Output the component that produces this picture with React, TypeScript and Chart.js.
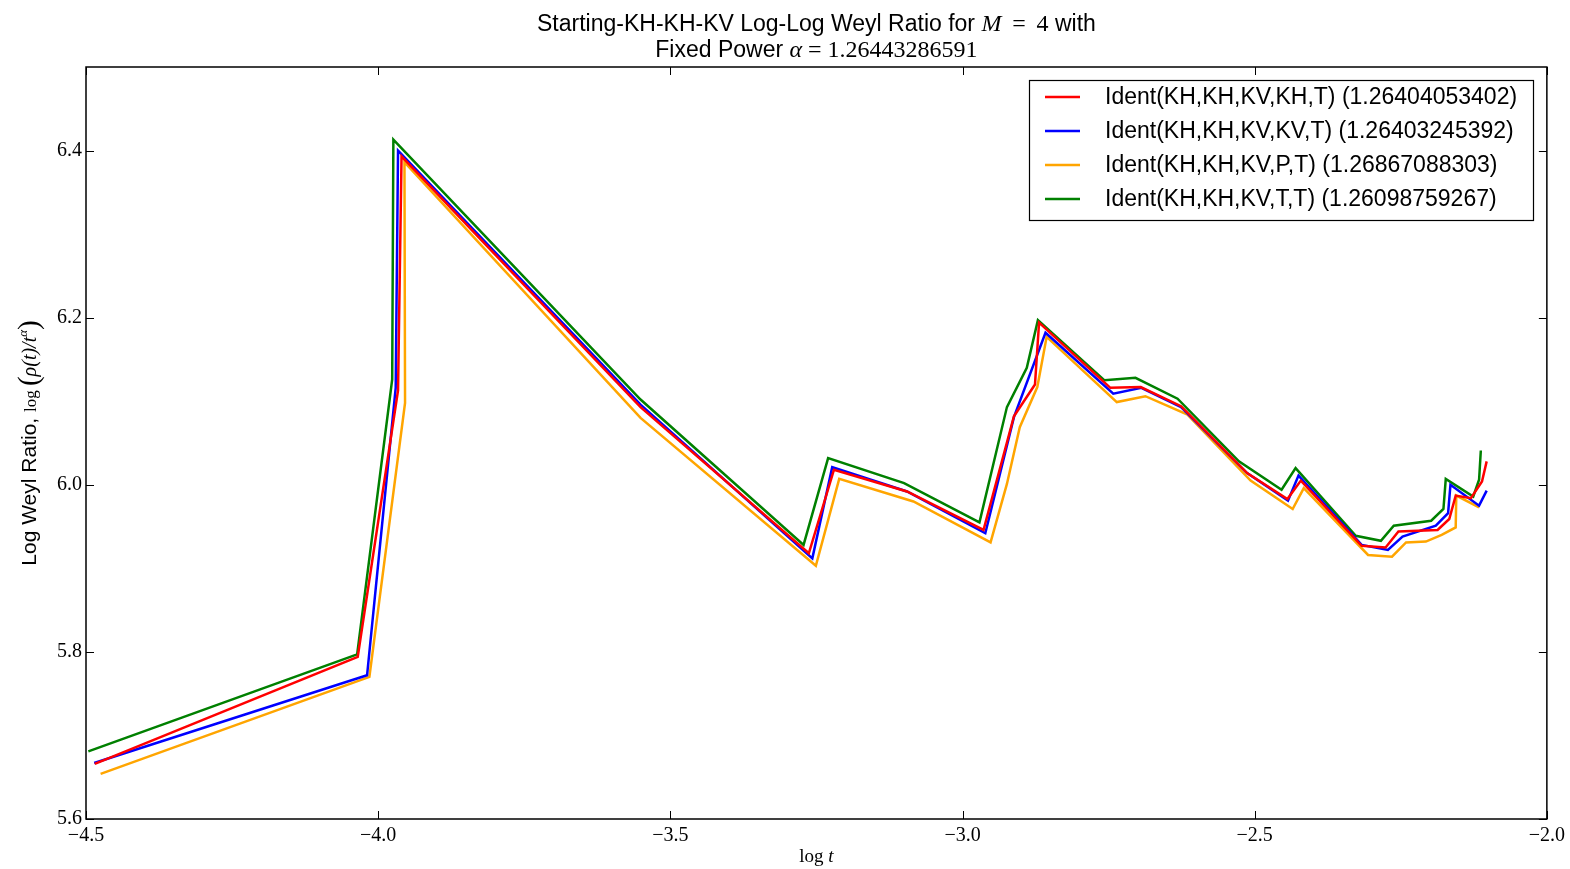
import React, { useEffect, useRef } from "react";
import { Chart, registerables } from "chart.js";
Chart.register(...registerables);

const seriesLabels = [
  "Ident(KH,KH,KV,KH,T) (1.26404053402)",
  "Ident(KH,KH,KV,KV,T) (1.26403245392)",
  "Ident(KH,KH,KV,P,T) (1.26867088303)",
  "Ident(KH,KH,KV,T,T) (1.26098759267)",
];
const seriesColors = ["#ff0000", "#0000ff", "#ffa500", "#008000"];

const redX = [-4.485, -4.035, -3.966, -3.960, -3.551, -3.263, -3.220, -3.095, -2.964, -2.912, -2.876, -2.869, -2.747, -2.695, -2.626, -2.513, -2.444, -2.421, -2.317, -2.276, -2.254, -2.187, -2.167, -2.156, -2.130, -2.111, -2.103];
const redY = [5.666, 5.794, 6.113, 6.393, 6.093, 5.918, 6.018, 5.992, 5.946, 6.082, 6.120, 6.194, 6.116, 6.117, 6.094, 6.014, 5.983, 6.005, 5.927, 5.925, 5.944, 5.946, 5.959, 5.987, 5.984, 6.004, 6.028];

const blueX = [-4.486, -4.019, -3.970, -3.966, -3.551, -3.257, -3.223, -3.095, -2.961, -2.912, -2.858, -2.742, -2.694, -2.626, -2.513, -2.443, -2.425, -2.317, -2.272, -2.247, -2.190, -2.169, -2.165, -2.116, -2.103];
const blueY = [5.667, 5.772, 6.116, 6.400, 6.096, 5.912, 6.021, 5.992, 5.942, 6.081, 6.182, 6.109, 6.116, 6.093, 6.014, 5.981, 6.011, 5.928, 5.922, 5.938, 5.951, 5.966, 6.000, 5.975, 5.993];

const orangeX = [-4.475, -4.015, -3.954, -3.955, -3.551, -3.251, -3.211, -3.084, -2.952, -2.924, -2.902, -2.872, -2.856, -2.736, -2.687, -2.615, -2.507, -2.435, -2.416, -2.306, -2.265, -2.241, -2.207, -2.180, -2.156, -2.155, -2.116];
const orangeY = [5.654, 5.770, 6.098, 6.386, 6.080, 5.903, 6.007, 5.980, 5.931, 6.001, 6.069, 6.117, 6.177, 6.099, 6.106, 6.084, 6.005, 5.971, 5.996, 5.916, 5.914, 5.931, 5.932, 5.940, 5.949, 5.987, 5.973];

const greenX = [-4.496, -4.036, -3.976, -3.974, -3.551, -3.272, -3.230, -3.100, -2.971, -2.924, -2.890, -2.871, -2.757, -2.704, -2.632, -2.527, -2.454, -2.430, -2.327, -2.284, -2.262, -2.198, -2.177, -2.173, -2.126, -2.116, -2.113];
const greenY = [5.681, 5.797, 6.126, 6.413, 6.102, 5.928, 6.032, 6.002, 5.955, 6.093, 6.140, 6.197, 6.125, 6.128, 6.103, 6.028, 5.994, 6.020, 5.939, 5.933, 5.951, 5.957, 5.971, 6.007, 5.986, 6.006, 6.041];

const xTicks = [-4.5, -4.0, -3.5, -3.0, -2.5, -2.0];
const yTicks = [5.6, 5.8, 6.0, 6.2, 6.4];
const xMin = -4.5, xMax = -2.0, yMin = 5.6, yMax = 6.5;

const SANS = "'Liberation Sans', Arial, sans-serif";
const SERIF = "'Liberation Serif', 'DejaVu Serif', serif";

type Seg = { t: string; f: string; dy?: number };

function drawSegs(ctx: CanvasRenderingContext2D, segs: Seg[], cx: number, y: number) {
  let total = 0;
  for (const s of segs) { ctx.font = s.f; total += ctx.measureText(s.t).width; }
  let x = cx - total / 2;
  ctx.textAlign = "left";
  for (const s of segs) {
    ctx.font = s.f;
    ctx.fillText(s.t, x, y + (s.dy || 0));
    x += ctx.measureText(s.t).width;
  }
}

const zip = (xs: number[], ys: number[]) => xs.map((x, i) => ({ x, y: ys[i] }));

const decorPlugin = {
  id: "decor",
  afterDraw(chart: any) {
    const ctx: CanvasRenderingContext2D = chart.ctx;
    const a = chart.chartArea;
    const xs = chart.scales.x, ys = chart.scales.y;
    ctx.save();
    ctx.strokeStyle = "#000";
    ctx.lineWidth = 1.5;
    ctx.strokeRect(a.left, a.top, a.right - a.left, a.bottom - a.top);
    ctx.lineWidth = 1;
    const tl = 8;
    for (const v of xTicks) {
      const px = Math.round(xs.getPixelForValue(v)) + 0.5;
      ctx.beginPath();
      ctx.moveTo(px, a.bottom); ctx.lineTo(px, a.bottom - tl);
      ctx.moveTo(px, a.top); ctx.lineTo(px, a.top + tl);
      ctx.stroke();
    }
    for (const v of yTicks) {
      const py = Math.round(ys.getPixelForValue(v)) + 0.5;
      ctx.beginPath();
      ctx.moveTo(a.left, py); ctx.lineTo(a.left + tl, py);
      ctx.moveTo(a.right, py); ctx.lineTo(a.right - tl, py);
      ctx.stroke();
    }
    ctx.fillStyle = "#000";
    ctx.textBaseline = "alphabetic";
    // title
    const ts = 23;
    drawSegs(ctx, [
      { t: "Starting-KH-KH-KV Log-Log Weyl Ratio for ", f: `${ts}px ${SANS}` },
      { t: "M", f: `italic ${ts + 1}px ${SERIF}` },
      { t: " \u2009=\u2009 4", f: `${ts + 1}px ${SERIF}` },
      { t: " with", f: `${ts}px ${SANS}` },
    ], (a.left + a.right) / 2, 31);
    drawSegs(ctx, [
      { t: "Fixed Power ", f: `${ts}px ${SANS}` },
      { t: "α", f: `italic ${ts + 1}px ${SERIF}` },
      { t: " = 1.26443286591", f: `${ts + 1}px ${SERIF}` },
    ], (a.left + a.right) / 2, 57);
    // x label
    drawSegs(ctx, [
      { t: "log ", f: `19px ${SERIF}` },
      { t: "t", f: `italic 19px ${SERIF}` },
    ], (a.left + a.right) / 2, 862);
    // y label
    ctx.save();
    ctx.translate(36, (a.top + a.bottom) / 2);
    ctx.rotate(-Math.PI / 2);
    drawSegs(ctx, [
      { t: "Log Weyl Ratio, ", f: `21px ${SANS}` },
      { t: "log ", f: `17px ${SERIF}` },
      { t: "(", f: `29px ${SERIF}`, dy: 2 },
      { t: "ρ(t)/t", f: `italic 20px ${SERIF}` },
      { t: "α", f: `italic 13px ${SERIF}`, dy: -9 },
      { t: ")", f: `29px ${SERIF}`, dy: 2 },
    ], 0, 0);
    ctx.restore();
    // legend
    const lx = 1029, ly = 80, lw = 504, lh = 140;
    ctx.fillStyle = "#fff";
    ctx.fillRect(lx, ly, lw, lh);
    ctx.strokeStyle = "#000";
    ctx.lineWidth = 1.2;
    ctx.strokeRect(lx + 0.5, ly + 0.5, lw, lh);
    ctx.font = `23px ${SANS}`;
    ctx.textBaseline = "middle";
    ctx.textAlign = "left";
    seriesLabels.forEach((lab, i) => {
      const yy = 97 + i * 34;
      ctx.strokeStyle = seriesColors[i];
      ctx.lineWidth = 2.5;
      ctx.beginPath();
      ctx.moveTo(1045, yy); ctx.lineTo(1080, yy);
      ctx.stroke();
      ctx.fillStyle = "#000";
      ctx.fillText(lab, 1105, yy + 1);
    });
    ctx.restore();
  },
};

export default function App() {
  const ref = useRef<HTMLCanvasElement | null>(null);
  useEffect(() => {
    document.body.style.margin = "0";
    const canvas = ref.current!;
    const xsArr = [redX, blueX, orangeX, greenX];
    const ysArr = [redY, blueY, orangeY, greenY];
    const chart = new Chart(canvas, {
      type: "line",
      data: {
        datasets: seriesLabels.map((lab, i) => ({
          label: lab,
          data: zip(xsArr[i], ysArr[i]),
          borderColor: seriesColors[i],
          backgroundColor: seriesColors[i],
          borderWidth: 2.5,
          pointRadius: 0,
          tension: 0,
          fill: false,
        })),
      },
      options: {
        animation: false,
        responsive: false,
        maintainAspectRatio: false,
        layout: { padding: { left: 0, right: 23, top: 67, bottom: 0 } },
        plugins: { legend: { display: false }, title: { display: false }, tooltip: { enabled: false } },
        scales: {
          x: {
            type: "linear",
            min: xMin,
            max: xMax,
            grid: { display: false, tickLength: 0, drawTicks: false },
            border: { display: false },
            afterBuildTicks: (s: any) => { s.ticks = xTicks.map((v) => ({ value: v })); },
            afterFit: (s: any) => { s.height = 50; },
            ticks: {
              color: "#000",
              font: { family: SERIF, size: 20 },
              padding: 5,
              maxRotation: 0,
              callback: (v: any) => (Number(v) < 0 ? "\u2212" : "") + Math.abs(Number(v)).toFixed(1),
            },
          },
          y: {
            type: "linear",
            min: yMin,
            max: yMax,
            grid: { display: false, tickLength: 0, drawTicks: false },
            border: { display: false },
            afterBuildTicks: (s: any) => { s.ticks = yTicks.map((v) => ({ value: v })); },
            afterFit: (s: any) => { s.width = 86; },
            ticks: {
              color: "#000",
              font: { family: SERIF, size: 20 },
              padding: 4,
              callback: (v: any) => Number(v).toFixed(1),
            },
          },
        },
      },
      plugins: [decorPlugin],
    });
    return () => chart.destroy();
  }, []);
  return <canvas ref={ref} width={1570} height={869} style={{ display: "block" }} />;
}
